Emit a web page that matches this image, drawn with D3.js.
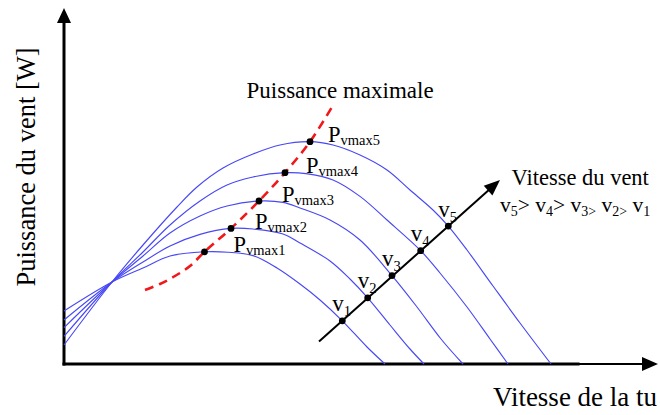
<!DOCTYPE html>
<html>
<head>
<meta charset="utf-8">
<script src="https://cdn.jsdelivr.net/npm/d3@7"></script>
<style>
  html, body { margin: 0; padding: 0; background: #fff; }
  svg { display: block; }
  text { font-family: "Liberation Serif", "Times New Roman", serif; fill: #000; }
</style>
</head>
<body>
<svg id="chart" width="660" height="415"></svg>
<script>
// Wind speeds, weakest to strongest
const speeds = ["1", "2", "3", "4", "5"];

// Power curves: [turbine speed, wind power] in arbitrary units
const curveV1 = [[0,13.25],[9.6,20.5],[15.8,24],[21.2,27],[28.1,28.05],[32.8,27.95],[37.8,27.1],[42.6,24],[47.2,20],[51.2,16],[55.66,10.8],[60.6,4.25],[64.2,0]];
const curveV2 = [[0,11],[9.6,20.5],[15.8,25.5],[21.2,29.5],[27.2,32.4],[33.4,33.9],[37.8,33.75],[43.8,32.5],[47.2,30.25],[53.2,25.75],[57.2,21.25],[60.74,16.55],[65.2,9.75],[69.2,3.75],[72,0]];
const curveV3 = [[0,9.1],[9.6,20.5],[15.8,27],[21.2,32.75],[27.2,37],[32.6,39.5],[39,40.75],[43.8,40.4],[47.2,39],[53.2,36],[59.2,31],[65.6,22.1],[70.6,14.25],[75.4,6.25],[79.8,0]];
const curveV4 = [[0,6.9],[9.6,20.5],[15.8,28],[21.2,34.75],[27.2,40.75],[32.6,44.75],[37.8,46.75],[44.2,47.83],[48.4,47.6],[53.8,46],[59.2,41.9],[64.6,36],[71.34,28.33],[75.2,22.75],[80.6,14.25],[85.2,6.25],[88.8,0]];
const curveV5 = [[0,4.75],[9.6,20.5],[15.8,29.75],[22.6,39.25],[26.6,44.25],[31.8,49],[37.8,52.5],[43.2,54.75],[49.2,55.58],[53.8,54.75],[59.2,52.25],[64.6,48.5],[69.2,43.5],[73.8,38.5],[76.86,34.48],[80.6,28.5],[85.8,19.5],[91.2,10.25],[97.4,0]];
const curves = [curveV1, curveV2, curveV3, curveV4, curveV5];

// Maximum-power trace beyond the first and last peaks
const mpptLow = [[16.2,18.5],[19.2,20],[22.2,22],[25.2,24.5]];
const mpptHigh = [[53.6,64.25]];

// Direction of increasing wind speed
const windArrow = [[51,5.6],[87.2,46]];

// Axis extents (arrow tips)
const xAxisEnd = 118.8;
const yAxisEnd = 89;

const svg = d3.select("#chart");
const x = d3.scaleLinear().domain([0, 120]).range([64, 664]);
const y = d3.scaleLinear().domain([0, 90]).range([364, 4]);

const smooth = d3.line().x(d => x(d[0])).y(d => y(d[1])).curve(d3.curveCatmullRom.alpha(0.5));

// Peak of each curve
const peaks = curves.map(c => d3.greatest(c, d => d[1]));

// Point of each curve lying on the wind-speed arrow
const ax0 = x(windArrow[0][0]), ay0 = y(windArrow[0][1]);
const ax1 = x(windArrow[1][0]), ay1 = y(windArrow[1][1]);
const alen = Math.hypot(ax1 - ax0, ay1 - ay0);
const ux = (ax1 - ax0) / alen, uy = (ay1 - ay0) / alen;
const distToArrow = d => Math.abs((x(d[0]) - ax0) * uy - (y(d[1]) - ay0) * ux);
const speedMarks = curves.map(c => d3.least(c, distToArrow));

// Axes with arrow heads
const axes = svg.append("g");
const xTip = x(xAxisEnd), yTip = y(yAxisEnd), x0 = x(0), y0 = y(0);
axes.append("line").attr("x1", x0).attr("y1", y0).attr("x2", 578).attr("y2", y0)
  .attr("stroke", "#000").attr("stroke-width", 3).attr("stroke-linecap", "square");
axes.append("line").attr("x1", 578).attr("y1", y0).attr("x2", xTip - 12).attr("y2", y0)
  .attr("stroke", "#000").attr("stroke-width", 1.8);
axes.append("line").attr("x1", x0).attr("y1", y0).attr("x2", x0).attr("y2", yTip + 12)
  .attr("stroke", "#000").attr("stroke-width", 3).attr("stroke-linecap", "square");
axes.append("path")
  .attr("d", `M${xTip},${y0} L${xTip - 16},${y0 - 7} L${xTip - 16},${y0 + 7} Z`).attr("fill", "#000");
axes.append("path")
  .attr("d", `M${x0},${yTip} L${x0 - 7},${yTip + 15} L${x0 + 7},${yTip + 15} Z`).attr("fill", "#000");

// Power curves
svg.append("g").selectAll("path").data(curves).join("path")
  .attr("d", smooth)
  .attr("fill", "none")
  .attr("stroke", "#4848f4")
  .attr("stroke-width", 1.15);

// Maximum power trace
const mppt = mpptLow.concat(peaks, mpptHigh);
svg.append("path")
  .attr("d", d3.line().x(d => x(d[0])).y(d => y(d[1])).curve(d3.curveCatmullRom.alpha(0.5))(mppt))
  .attr("fill", "none")
  .attr("stroke", "#f01818")
  .attr("stroke-width", 2.6)
  .attr("stroke-dasharray", "9,6");

// Wind-speed arrow
svg.append("line")
  .attr("x1", ax0).attr("y1", ay0).attr("x2", ax1 - ux * 12).attr("y2", ay1 - uy * 12)
  .attr("stroke", "#000").attr("stroke-width", 2);
const hl = 16, hw = 6.5;
svg.append("path")
  .attr("d", `M${ax1},${ay1} L${ax1 - ux * hl - uy * hw},${ay1 - uy * hl + ux * hw} L${ax1 - ux * hl + uy * hw},${ay1 - uy * hl - ux * hw} Z`)
  .attr("fill", "#000");

// Dots
svg.append("g").selectAll("circle").data(peaks.concat(speedMarks)).join("circle")
  .attr("cx", d => x(d[0])).attr("cy", d => y(d[1])).attr("r", 3.4).attr("fill", "#000");

// Peak labels
const peakLabelDx = [29, 24, 23, 21, 18];
const pl = svg.append("g").selectAll("text").data(peaks).join("text")
  .attr("x", (d, i) => x(d[0]) + peakLabelDx[i])
  .attr("y", d => y(d[1]) + 0.5);
pl.append("tspan").attr("font-size", 22.5).text("P");
pl.append("tspan").attr("font-size", 14.5).attr("dy", 3).text((d, i) => "vmax" + speeds[i]);

// Wind-speed labels
const vl = svg.append("g").selectAll("text").data(speedMarks).join("text")
  .attr("x", d => x(d[0]) - 10)
  .attr("y", d => y(d[1]) - 9.5);
vl.append("tspan").attr("font-size", 23).text("v");
vl.append("tspan").attr("font-size", 14.5).attr("dy", 5).text((d, i) => speeds[i]);

// Titles
svg.append("text")
  .attr("transform", "translate(35,167) rotate(-90)")
  .attr("text-anchor", "middle")
  .attr("font-size", 26.5)
  .text("Puissance du vent [W]");
svg.append("text").attr("x", 493).attr("y", 406).attr("font-size", 27).text("Vitesse de la tu");
svg.append("text").attr("x", 246.5).attr("y", 97.5).attr("font-size", 23).text("Puissance maximale");
svg.append("text").attr("x", 511.5).attr("y", 185).attr("font-size", 22.5).text("Vitesse du vent");

// Ordering of wind speeds: v5> v4> v3> v2> v1
const base = 211.5, sub = base + 4.5;
const order = svg.append("text").attr("x", 500).attr("y", base).attr("font-size", 21.5);
const ordered = speeds.slice().reverse();
ordered.forEach((s, i) => {
  order.append("tspan").attr("y", base).attr("font-size", 21.5).text((i === 0 ? "" : " ") + "v");
  if (i < 2) {
    order.append("tspan").attr("y", sub).attr("font-size", 14).text(s);
    order.append("tspan").attr("y", base).attr("font-size", 21.5).text(">");
  } else if (i < 4) {
    order.append("tspan").attr("y", sub).attr("font-size", 14).text(s + ">");
  } else {
    order.append("tspan").attr("y", sub).attr("font-size", 14).text(s);
  }
});
</script>
</body>
</html>
